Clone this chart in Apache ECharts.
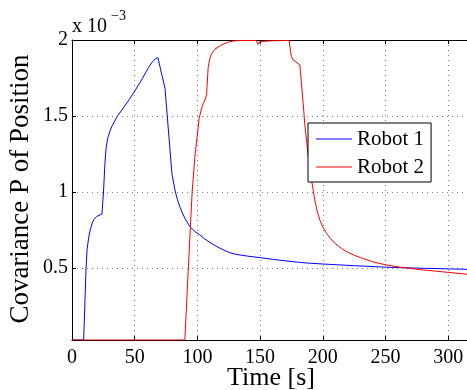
<!DOCTYPE html>
<html>
<head>
<meta charset="utf-8">
<script src="https://cdn.jsdelivr.net/npm/echarts@6/dist/echarts.min.js"></script>
<style>
  html, body { margin: 0; padding: 0; background: #fff; }
  #main { width: 467px; height: 390px; }
</style>
</head>
<body>
<div id="main"></div>
<script>
// values in units of 1e-3
var robot1 = [
  [0, 0.026], [9.3, 0.026], [11.2, 0.495], [12, 0.62], [13.3, 0.7], [14.5, 0.75],
  [15.9, 0.79], [17.5, 0.82], [19.9, 0.84], [23.9, 0.855], [25.2, 1.013],
  [26.2, 1.18], [27.2, 1.29], [28.4, 1.35], [30, 1.395], [32, 1.435],
  [35.9, 1.495], [39.8, 1.54], [45, 1.6], [50.5, 1.67], [56, 1.745], [61.1, 1.82],
  [64, 1.855], [66.4, 1.875], [68.5, 1.884], [69.9, 1.884], [74.2, 1.68],
  [79.7, 1.12], [82.1, 1.013], [84, 0.95], [86, 0.903], [88, 0.862], [90, 0.827],
  [94, 0.772], [98, 0.74], [102, 0.717], [106, 0.69], [110, 0.668], [114, 0.648],
  [118, 0.63], [122, 0.614], [126, 0.6], [130, 0.591], [135, 0.584], [140, 0.578],
  [145, 0.573], [150, 0.568], [160, 0.557], [170, 0.547], [180, 0.538],
  [190, 0.531], [200, 0.526], [225, 0.515], [250.8, 0.505], [280, 0.498], [315, 0.491]
];
var robot2 = [
  [0, 0.026], [90, 0.026], [92.7, 0.487], [95.9, 1.013], [98, 1.23],
  [101.4, 1.485], [104, 1.57], [106, 1.605], [107.3, 1.64], [108.6, 1.82],
  [110, 1.88], [111.3, 1.91], [114, 1.94], [117.9, 1.96], [122, 1.978],
  [125.9, 1.99], [130, 1.995], [135, 1.997], [147, 1.997], [148.4, 1.97],
  [149.8, 1.99], [160, 1.995], [173.2, 1.997], [174.2, 1.93], [175, 1.89], [176.2, 1.87],
  [177.7, 1.857], [181.7, 1.836], [183, 1.83], [184.3, 1.59], [185.7, 1.44],
  [189.6, 1.145], [191, 1.08], [193.6, 0.947], [195.5, 0.875], [197.6, 0.816],
  [200, 0.77], [203, 0.728], [206, 0.695], [210, 0.66], [215, 0.628],
  [220, 0.603], [225, 0.584], [230, 0.568], [240, 0.54], [250, 0.521],
  [260, 0.507], [270, 0.496], [280, 0.487], [290, 0.479], [300, 0.471], [315, 0.459]
];
var xTicks = [0, 50, 100, 150, 200, 250, 300];
var yTicks = [0.5, 1, 1.5, 2];

var chart = echarts.init(document.getElementById('main'));
var font = 'Liberation Serif';
var gridDots = { show: true, lineStyle: { color: '#808080', type: [1, 4], width: 1 } };

var option = {
  animation: false,
  grid: { left: 72, top: 40, right: 0, bottom: 50 },
  xAxis: [{
    type: 'value', min: 0, max: 315,
    axisLine: { show: true, lineStyle: { color: '#000', width: 1 } },
    axisTick: { show: true, inside: true, length: 4, customValues: xTicks, lineStyle: { color: '#000' } },
    axisLabel: { customValues: xTicks, color: '#000', fontFamily: font, fontSize: 20, margin: 8 },
    splitLine: Object.assign({ customValues: xTicks }, gridDots)
  }, {
    type: 'value', min: 0, max: 315, position: 'top',
    axisLine: { show: true, lineStyle: { color: '#000', width: 1 } },
    axisTick: { show: true, inside: true, length: 4, customValues: xTicks, lineStyle: { color: '#000' } },
    axisLabel: { show: false },
    splitLine: { show: false }
  }],
  yAxis: {
    type: 'value', min: 0.026, max: 2,
    axisLine: { show: true, lineStyle: { color: '#000', width: 1 } },
    axisTick: { show: true, inside: true, length: 4, customValues: yTicks, lineStyle: { color: '#000' } },
    axisLabel: { customValues: yTicks, color: '#000', fontFamily: font, fontSize: 20, margin: 4 },
    splitLine: Object.assign({ customValues: yTicks }, gridDots)
  },
  legend: {
    left: 308, top: 123, orient: 'vertical',
    padding: [5, 7, 4, 8], itemGap: 6, itemWidth: 36, itemHeight: 1, itemTextGap: 4,
    icon: 'rect', selectedMode: false,
    backgroundColor: '#fff', borderColor: '#000', borderWidth: 1,
    textStyle: { fontFamily: font, fontSize: 21, color: '#000', lineHeight: 22 },
    data: ['Robot 1', 'Robot 2']
  },
  series: [{
    name: 'Robot 1', type: 'line', data: robot1, showSymbol: false, symbol: 'none',
    lineStyle: { color: '#0000ff', width: 1 }, itemStyle: { color: '#0000ff' }
  }, {
    name: 'Robot 2', type: 'line', data: robot2, showSymbol: false, symbol: 'none',
    lineStyle: { color: '#ff0000', width: 1 }, itemStyle: { color: '#ff0000' }
  }],
  graphic: [{
    type: 'text', x: 21, y: 189, rotation: Math.PI / 2,
    style: { text: 'Covariance P of Position', font: '27px "Liberation Serif"', fill: '#000', textAlign: 'center', textVerticalAlign: 'middle' }
  }, {
    type: 'text', x: 271, y: 378,
    style: { text: 'Time [s]', font: '26px "Liberation Serif"', fill: '#000', textAlign: 'center', textVerticalAlign: 'middle' }
  }, {
    type: 'text', x: 72, y: 26.5,
    style: { text: 'x 10', font: '20px "Liberation Serif"', fill: '#000', textAlign: 'left', textVerticalAlign: 'middle' }
  }, {
    type: 'text', x: 111, y: 16.5,
    style: { text: '\u22123', font: '14px "Liberation Serif"', fill: '#000', textAlign: 'left', textVerticalAlign: 'middle' }
  }]
};
chart.setOption(option);
</script>
</body>
</html>
